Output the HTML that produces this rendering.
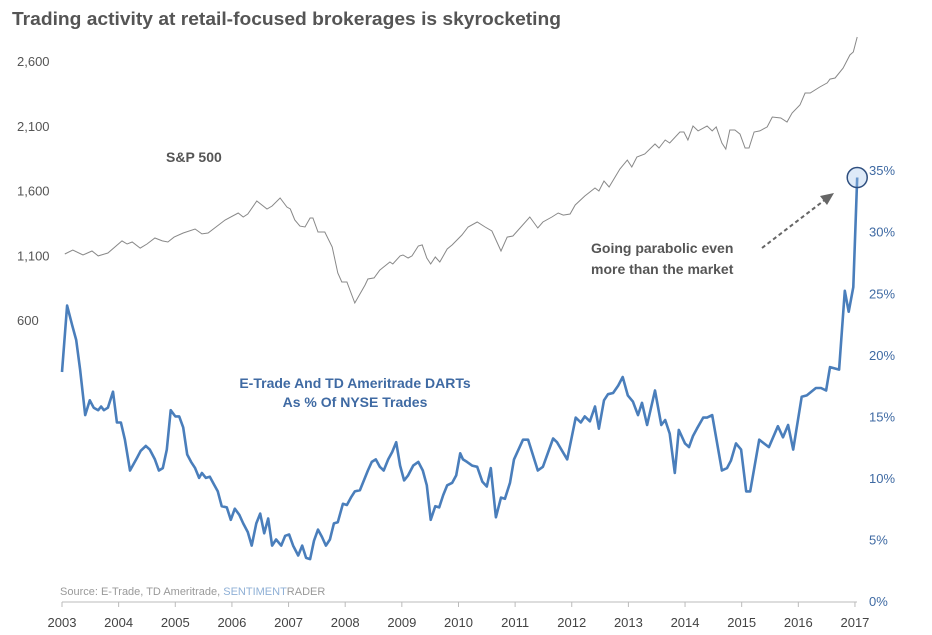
<!DOCTYPE html>
<html><head><meta charset="utf-8">
<style>
html,body{margin:0;padding:0;background:#fff;}
svg{display:block;font-family:"Liberation Sans","DejaVu Sans",sans-serif;}
</style></head>
<body>
<svg id="chart" width="932" height="635" viewBox="0 0 932 635" xmlns="http://www.w3.org/2000/svg">
<text x="12" y="25" font-size="18" font-weight="bold" fill="#555" textLength="549" lengthAdjust="spacingAndGlyphs">Trading activity at retail-focused brokerages is skyrocketing</text>
<g id="axes"></g>
<g id="series"></g>
<text x="166" y="162" font-size="14" font-weight="bold" fill="#555">S&amp;P 500</text>
<text x="355" y="388" font-size="14" font-weight="bold" fill="#3f6aa3" text-anchor="middle">E-Trade And TD Ameritrade DARTs</text>
<text x="355" y="407" font-size="14" font-weight="bold" fill="#3f6aa3" text-anchor="middle">As % Of NYSE Trades</text>
<text x="591" y="253" font-size="14" font-weight="bold" fill="#555">Going parabolic even</text>
<text x="591" y="274" font-size="14" font-weight="bold" fill="#555">more than the market</text>
<line x1="762" y1="248" x2="826" y2="199" stroke="#666" stroke-width="2" stroke-dasharray="4,3"/>
<polygon points="834,193 820,196 827,205" fill="#666"/>
<text x="60" y="595" font-size="11" fill="#999">Source: E-Trade, TD Ameritrade, <tspan fill="#8fb0d6">SENTIMENT</tspan>RADER</text>
</svg>
<script>
const spYears=[2003.05,2003.19,2003.37,2003.53,2003.64,2003.81,2004.06,2004.15,2004.24,2004.38,2004.50,2004.64,2004.77,2004.87,2004.98,2005.14,2005.35,2005.47,2005.58,2005.88,2006.11,2006.20,2006.28,2006.44,2006.62,2006.71,2006.85,2006.97,2007.03,2007.11,2007.20,2007.29,2007.38,2007.43,2007.52,2007.64,2007.77,2007.87,2007.94,2008.03,2008.17,2008.35,2008.40,2008.51,2008.61,2008.79,2008.84,2008.97,2009.02,2009.11,2009.18,2009.29,2009.36,2009.44,2009.51,2009.59,2009.67,2009.80,2009.89,2010.06,2010.17,2010.33,2010.47,2010.59,2010.75,2010.86,2010.96,2011.26,2011.40,2011.49,2011.65,2011.76,2011.85,2011.97,2012.06,2012.23,2012.41,2012.48,2012.57,2012.66,2012.85,2012.98,2013.06,2013.15,2013.29,2013.47,2013.54,2013.65,2013.73,2013.91,2013.98,2014.05,2014.14,2014.23,2014.39,2014.48,2014.55,2014.65,2014.72,2014.79,2014.88,2014.97,2015.06,2015.13,2015.22,2015.32,2015.45,2015.54,2015.69,2015.80,2015.89,2016.03,2016.12,2016.21,2016.38,2016.51,2016.56,2016.65,2016.79,2016.91,2016.97,2017.04];
const spValues=[1110,1141,1102,1133,1095,1118,1211,1187,1203,1156,1187,1234,1211,1203,1241,1272,1303,1265,1272,1373,1427,1396,1419,1520,1458,1481,1543,1473,1458,1373,1326,1319,1388,1388,1280,1280,1164,963,894,894,731,870,917,925,986,1048,1033,1095,1102,1079,1095,1172,1180,1079,1033,1087,1048,1149,1180,1257,1319,1357,1319,1288,1133,1241,1249,1396,1311,1357,1396,1427,1411,1419,1489,1558,1620,1597,1674,1628,1767,1836,1782,1860,1883,1960,1929,1991,1968,2053,2053,1991,2099,2061,2099,2061,2092,1968,1921,2068,2068,2037,1929,1929,2053,2061,2092,2169,2161,2130,2200,2262,2354,2354,2401,2432,2462,2470,2547,2648,2671,2787];
const dYears=[2003.00,2003.09,2003.18,2003.25,2003.32,2003.41,2003.49,2003.56,2003.64,2003.69,2003.74,2003.81,2003.90,2003.97,2004.04,2004.11,2004.20,2004.32,2004.39,2004.48,2004.55,2004.64,2004.71,2004.78,2004.85,2004.92,2005.00,2005.07,2005.14,2005.21,2005.28,2005.35,2005.42,2005.47,2005.54,2005.61,2005.68,2005.75,2005.82,2005.91,2005.98,2006.05,2006.13,2006.20,2006.28,2006.35,2006.43,2006.50,2006.57,2006.64,2006.71,2006.78,2006.87,2006.94,2007.01,2007.08,2007.17,2007.24,2007.31,2007.38,2007.45,2007.52,2007.59,2007.66,2007.73,2007.80,2007.87,2007.96,2008.03,2008.10,2008.17,2008.26,2008.33,2008.40,2008.47,2008.54,2008.61,2008.68,2008.76,2008.83,2008.90,2008.97,2009.04,2009.11,2009.20,2009.29,2009.37,2009.44,2009.51,2009.59,2009.66,2009.73,2009.80,2009.89,2009.96,2010.03,2010.08,2010.15,2010.24,2010.33,2010.42,2010.50,2010.57,2010.66,2010.75,2010.82,2010.91,2010.98,2011.14,2011.23,2011.40,2011.49,2011.67,2011.74,2011.92,2012.07,2012.16,2012.23,2012.32,2012.41,2012.48,2012.57,2012.64,2012.73,2012.82,2012.90,2012.99,2013.08,2013.17,2013.24,2013.33,2013.47,2013.58,2013.65,2013.73,2013.82,2013.89,2014.00,2014.07,2014.14,2014.21,2014.32,2014.39,2014.48,2014.65,2014.74,2014.81,2014.90,2014.99,2015.08,2015.15,2015.31,2015.48,2015.64,2015.73,2015.82,2015.91,2016.06,2016.15,2016.31,2016.40,2016.49,2016.56,2016.72,2016.82,2016.89,2016.97,2017.04];
const dValues=[18.6,24.0,22.4,21.2,18.8,15.1,16.3,15.7,15.5,15.8,15.5,15.7,17.0,14.5,14.5,13.1,10.6,11.6,12.2,12.6,12.3,11.5,10.6,10.8,12.3,15.5,15.0,15.0,14.1,11.9,11.3,10.8,10.0,10.4,10.0,10.1,9.5,8.9,7.7,7.6,6.6,7.5,7.0,6.3,5.6,4.5,6.3,7.1,5.5,6.7,4.5,5.0,4.5,5.3,5.4,4.5,3.7,4.5,3.5,3.4,4.9,5.8,5.2,4.5,5.0,6.3,6.4,7.9,7.8,8.4,8.9,9.0,9.8,10.6,11.3,11.5,10.9,10.6,11.5,12.1,12.9,11.0,9.8,10.2,11.0,11.3,10.6,9.4,6.6,7.7,7.6,8.6,9.4,9.6,10.2,12.0,11.5,11.3,11.0,10.9,9.7,9.3,10.8,6.8,8.4,8.3,9.6,11.5,13.1,13.1,10.6,10.9,13.2,12.9,11.5,14.9,14.5,15.0,14.6,15.8,14.0,16.3,16.8,16.9,17.5,18.2,16.7,16.2,15.1,16.1,14.3,17.1,14.3,14.7,13.6,10.4,13.9,12.8,12.5,13.4,14.0,14.9,14.9,15.1,10.6,10.8,11.4,12.8,12.3,8.9,8.9,13.1,12.5,14.2,13.3,14.3,12.3,16.6,16.7,17.3,17.3,17.1,19.0,18.8,25.2,23.5,25.5,34.4];
const leftTicks=[600,1100,1600,2100,2600];
const leftTickLabels=["600","1,100","1,600","2,100","2,600"];
const rightTicks=[0,5,10,15,20,25,30,35];
const rightTickLabels=["0%","5%","10%","15%","20%","25%","30%","35%"];
const xTicks=[2003,2004,2005,2006,2007,2008,2009,2010,2011,2012,2013,2014,2015,2016,2017];

const NS="http://www.w3.org/2000/svg";
const xS=y=>62+(y-2003)*56.64;
const yL=v=>320-(v-600)*64.7/500;
const yR=v=>601-v*12.31;
const axes=document.getElementById('axes');
const series=document.getElementById('series');
function mk(tag,attrs,parent,text){const e=document.createElementNS(NS,tag);for(const k in attrs)e.setAttribute(k,attrs[k]);if(text!==undefined)e.textContent=text;parent.appendChild(e);return e;}

const ax=mk('line',{x1:62,y1:602,x2:857,y2:602,stroke:'#bbb','stroke-width':1},axes);


xTicks.forEach(t=>{
  const tk=mk('line',{x1:xS(t),y1:602,x2:xS(t),y2:607,stroke:'#bbb'},axes);
  
  
  const lb=mk('text',{x:xS(t),y:627,'font-size':13,fill:'#444','text-anchor':'middle'},axes,String(t));
  
  
});
leftTicks.forEach((t,i)=>{
  const lb=mk('text',{x:17,y:yL(t)+5,'font-size':13,fill:'#555'},axes,leftTickLabels[i]);
  
  
});
rightTicks.forEach((t,i)=>{
  const lb=mk('text',{x:869,y:yR(t)+5,'font-size':13,fill:'#3f6aa3'},axes,rightTickLabels[i]);
  
  
});
const spPts=spYears.map((y,i)=>xS(y).toFixed(1)+','+yL(spValues[i]).toFixed(1)).join(' ');
const sp=mk('polyline',{points:spPts,fill:'none',stroke:'#888','stroke-width':1},series);


const dPts=dYears.map((y,i)=>xS(y).toFixed(1)+','+yR(dValues[i]).toFixed(1)).join(' ');
const dl=mk('polyline',{points:dPts,fill:'none',stroke:'#4a7ebb','stroke-width':2.6,'stroke-linejoin':'round'},series);


const li=dYears.length-1;
const c=mk('circle',{cx:xS(dYears[li]),cy:yR(dValues[li]),r:10,fill:'rgba(160,195,235,0.35)',stroke:'#2f4f7f','stroke-width':1.5},series);


</script>
</body></html>
